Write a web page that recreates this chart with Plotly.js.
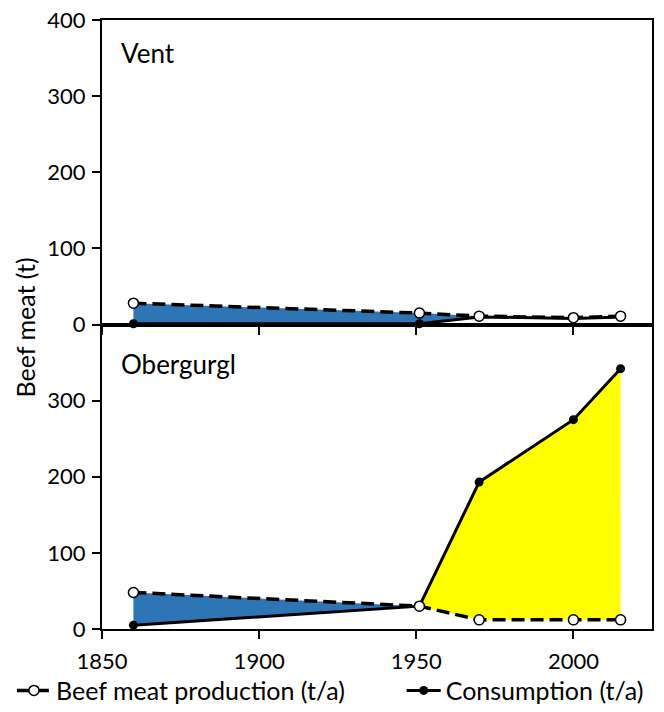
<!DOCTYPE html>
<html>
<head>
<meta charset="utf-8">
<script src="https://cdn.plot.ly/plotly-3.0.1.min.js"></script>
<style>html,body{margin:0;padding:0;background:#fff;}#chart{width:664px;height:712px;}</style>
</head>
<body>
<div id="chart"></div>
<script>
// ---- data ----
var years = [1860, 1951, 1970, 2000, 2015];
var ventProduction = [28, 15, 11, 9, 11];
var ventConsumption = [1, 1, 10, 8, 10];
var oberProduction = [48, 30, 12, 12, 12];
var oberConsumption = [5, 30, 193, 275, 342];
var xTicks = [1850, 1900, 1950, 2000];
var yTicksTop = [0, 100, 200, 300, 400];
var yTicksBottom = [0, 100, 200, 300];
var panelNames = ["Vent", "Obergurgl"];
var seriesNames = ["Beef meat production (t/a)", "Consumption (t/a)"];

var BLUE = "rgb(46,117,182)";
var YELLOW = "rgb(255,255,0)";
var FONT = "Lato, 'Open Sans', sans-serif";

function polygon(xs, top, bottom, i0, i1, color, xa, ya) {
  var px = [], py = [];
  for (var i = i0; i <= i1; i++) { px.push(xs[i]); py.push(top[i]); }
  for (var j = i1; j >= i0; j--) { px.push(xs[j]); py.push(bottom[j]); }
  return {x: px, y: py, type: "scatter", mode: "lines", fill: "toself",
          fillcolor: color, line: {width: 0, color: color}, xaxis: xa, yaxis: ya,
          showlegend: false, hoverinfo: "skip"};
}

function consTrace(vals, xa, ya, show) {
  return {x: years, y: vals, type: "scatter", mode: "lines+markers", name: seriesNames[1],
          line: {color: "black", width: 3}, marker: {color: "black", size: 9},
          xaxis: xa, yaxis: ya, showlegend: show, legend: "legend2", cliponaxis: false};
}
function prodTrace(vals, xa, ya, show) {
  return {x: years, y: vals, type: "scatter", mode: "lines+markers", name: seriesNames[0],
          line: {color: "black", width: 3.5, dash: "13px,6px"},
          marker: {color: "white", size: 10, line: {color: "black", width: 1.5}},
          xaxis: xa, yaxis: ya, showlegend: show, legend: "legend", cliponaxis: false};
}

var traces = [
  polygon(years, ventProduction, ventConsumption, 0, 2, BLUE, "x2", "y2"),
  polygon(years, oberProduction, oberConsumption, 0, 1, BLUE, "x", "y"),
  polygon(years, oberConsumption, oberProduction, 1, 4, YELLOW, "x", "y"),
  consTrace(ventConsumption, "x2", "y2", false),
  prodTrace(ventProduction, "x2", "y2", false),
  consTrace(oberConsumption, "x", "y", true),
  prodTrace(oberProduction, "x", "y", true)
];

var axisCommon = {showline: true, linecolor: "black", linewidth: 2, mirror: true,
  ticks: "outside", ticklen: 8, tickwidth: 2, tickcolor: "black",
  showgrid: false, zeroline: false, tickfont: {family: FONT, size: 22, color: "black"}};

function merge(a, b) { var o = {}; for (var k in a) o[k] = a[k]; for (var k2 in b) o[k2] = b[k2]; return o; }

var legendCommon = {orientation: "h", xref: "container", yref: "container", xanchor: "left", yanchor: "middle",
  font: {family: FONT, size: 25, color: "black"}, itemwidth: 34, bgcolor: "rgba(0,0,0,0)", borderwidth: 0};

var layout = {
  width: 664, height: 712,
  margin: {l: 102, r: 12, t: 20, b: 83},
  paper_bgcolor: "white", plot_bgcolor: "white",
  font: {family: FONT, color: "black"},
  xaxis: merge(axisCommon, {range: [1850, 2025], tickvals: xTicks, anchor: "y", ticklabelstandoff: 4}),
  yaxis: merge(axisCommon, {range: [0, 400], tickvals: yTicksBottom, domain: [0, 0.5], anchor: "x", ticklabelstandoff: 2}),
  xaxis2: merge(axisCommon, {range: [1850, 2025], tickvals: xTicks, anchor: "y2", matches: "x", showticklabels: false}),
  yaxis2: merge(axisCommon, {range: [0, 400], tickvals: yTicksTop, domain: [0.5, 1], anchor: "x2", ticklabelstandoff: 2}),
  annotations: [
    {text: panelNames[0], xref: "x2 domain", yref: "y2 domain", x: 0.031, y: 0.89, xanchor: "left", yanchor: "middle", showarrow: false, font: {family: FONT, size: 26, color: "black"}},
    {text: panelNames[1], xref: "x domain", yref: "y domain", x: 0.031, y: 0.87, xanchor: "left", yanchor: "middle", showarrow: false, font: {family: FONT, size: 26, color: "black"}},
    {text: "Beef meat (t)", xref: "paper", yref: "paper", x: -0.14, y: 0.495, xanchor: "center", yanchor: "middle", textangle: -90, showarrow: false, font: {family: FONT, size: 25, color: "black"}}
  ],
  showlegend: true,
  legend: merge(legendCommon, {x: 0.018, y: 0.03}),
  legend2: merge(legendCommon, {x: 0.605, y: 0.03})
};

Plotly.newPlot("chart", traces, layout, {displayModeBar: false, staticPlot: true});
</script>
</body>
</html>
